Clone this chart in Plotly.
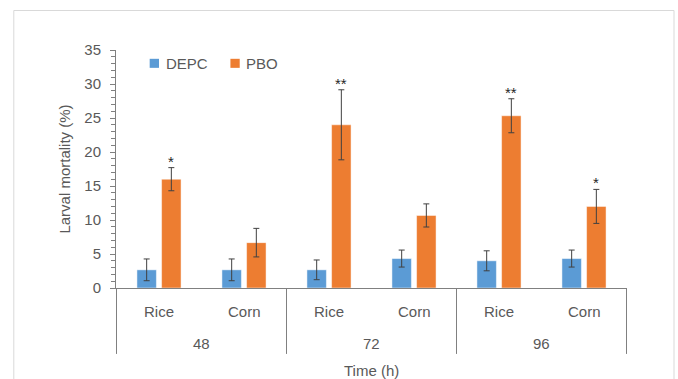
import plotly.graph_objects as go

# Exposure time (h) and host plant for each bar pair
times = ["48", "48", "72", "72", "96", "96"]
hosts = ["Rice", "Corn", "Rice", "Corn", "Rice", "Corn"]
time_groups = ["48", "72", "96"]

# Larval mortality (%) means and standard errors
depc_mean = [2.67, 2.67, 2.67, 4.33, 4.0, 4.33]
depc_err = [1.6, 1.6, 1.45, 1.25, 1.47, 1.25]
pbo_mean = [16.0, 6.67, 24.0, 10.67, 25.33, 12.0]
pbo_err = [1.7, 2.1, 5.15, 1.7, 2.5, 2.5]

# Significance marks above the PBO bars
pbo_sig = ["*", "", "**", "", "**", "*"]

BLUE = "#5B9BD5"
ORANGE = "#ED7D31"
GREY_TXT = "#595959"
AXIS = "#808080"
FONT = "Liberation Sans, Arial, sans-serif"

BARGAP = 0.42
GROUPGAP = 0.21

# One category per (time, host) pair; labels drawn separately in two rows
cats = [f"{t} h {h}" for t, h in zip(times, hosts)]

err_style = dict(type="data", visible=True, color="#404040", thickness=1, width=3)

fig = go.Figure()
fig.add_trace(go.Bar(
    name="DEPC", x=cats, y=depc_mean,
    error_y=dict(array=depc_err, **err_style),
    marker=dict(color=BLUE, line=dict(color="rgba(255,255,255,0.6)", width=0.8)),
))
fig.add_trace(go.Bar(
    name="PBO", x=cats, y=pbo_mean,
    error_y=dict(array=pbo_err, **err_style),
    marker=dict(color=ORANGE, line=dict(color="rgba(255,255,255,0.6)", width=0.8)),
))

txt = dict(family=FONT, size=15, color=GREY_TXT)
annotations = []
shapes = []

# Star labels centred over the second bar of each category slot
pbo_offset = (1 - BARGAP) / 4
for i, (m, e, s) in enumerate(zip(pbo_mean, pbo_err, pbo_sig)):
    if s:
        annotations.append(dict(
            x=i + pbo_offset, y=m + e, xref="x", yref="y",
            text=s, showarrow=False, yanchor="bottom", yshift=-4,
            font=dict(family=FONT, size=15, color="#262626"),
        ))

# Two-row category labels: host plant, then exposure time
for i, h in enumerate(hosts):
    annotations.append(dict(
        x=i, y=-0.097, xref="x", yref="paper", text=h, showarrow=False,
        xanchor="center", yanchor="middle", font=txt,
    ))
n_per = len(hosts) // len(time_groups)
for g, t in enumerate(time_groups):
    annotations.append(dict(
        x=g * n_per + (n_per - 1) / 2, y=-0.235, xref="x", yref="paper",
        text=t, showarrow=False, xanchor="center", yanchor="middle", font=txt,
    ))
annotations.append(dict(
    x=0.5, y=-0.345, xref="paper", yref="paper", text="Time (h)",
    showarrow=False, xanchor="center", yanchor="middle", font=txt,
))

# Group dividers below the axis
for g in range(len(time_groups) + 1):
    shapes.append(dict(
        type="line", xref="x", yref="paper",
        x0=g * n_per - 0.5, x1=g * n_per - 0.5, y0=0, y1=-0.277,
        line=dict(color=AXIS, width=1),
    ))

# Legend keys
legend_items = [("DEPC", BLUE, 0.0659), ("PBO", ORANGE, 0.2239)]
for name, col, x0 in legend_items:
    shapes.append(dict(
        type="rect", xref="paper", yref="paper",
        x0=x0, x1=x0 + 0.0182, y0=0.925, y1=0.963,
        line=dict(width=0), fillcolor=col,
    ))
    annotations.append(dict(
        x=x0 + 0.0272, y=0.9445, xref="paper", yref="paper", text=name,
        showarrow=False, xanchor="left", yanchor="middle", font=txt,
    ))

# Chart area frame
shapes.append(dict(
    type="rect", xref="paper", yref="paper",
    x0=-0.2, x1=1.092, y0=-0.45, y1=1.166,
    line=dict(color="#D9D9D9", width=1), fillcolor="rgba(0,0,0,0)",
    layer="below",
))

fig.update_layout(
    width=678, height=379,
    margin=dict(l=116, r=51, t=50, b=91),
    paper_bgcolor="white", plot_bgcolor="white",
    barmode="group", bargap=BARGAP, bargroupgap=GROUPGAP,
    font=txt,
    showlegend=False,
    annotations=annotations,
    shapes=shapes,
)

fig.update_xaxes(
    type="category",
    showline=True, linecolor=AXIS, linewidth=1,
    ticks="", showgrid=False, showticklabels=False,
)
fig.update_yaxes(
    range=[0, 35], dtick=5, tick0=0,
    showline=True, linecolor=AXIS, linewidth=1,
    ticks="outside", ticklen=5, tickcolor=AXIS, tickwidth=1,
    minor=dict(dtick=1, ticks="outside", ticklen=4, tickcolor=AXIS, tickwidth=1, showgrid=False),
    showgrid=False, zeroline=False,
    ticklabelstandoff=6,
    tickfont=txt,
    title=dict(text="Larval mortality (%)", font=txt, standoff=10),
)

fig.write_html("out.html")
